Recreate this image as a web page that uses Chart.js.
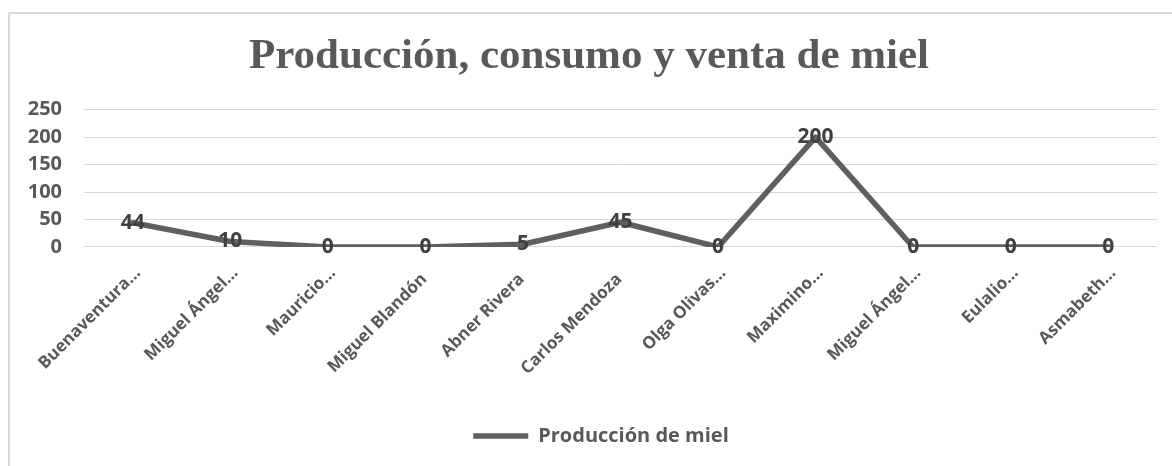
<!DOCTYPE html>
<html>
<head>
<meta charset="utf-8">
<script src="https://cdn.jsdelivr.net/npm/chart.js@4/dist/chart.umd.min.js"></script>
<style>
    html, body { margin: 0; padding: 0; background: #ffffff; }
    #frame {
        position: absolute; left: 8px; top: 12px; width: 1164px; height: 454px;
        border-left: 2px solid #d9d9d9; border-top: 2px solid #d9d9d9;
        box-sizing: border-box;
    }
    #wrap { position: absolute; left: 0; top: 0; width: 1172px; height: 466px; }
</style>
</head>
<body>
<div id="frame"></div>
<div id="wrap"><canvas id="chart"></canvas></div>
<script>
const productores = [
    'Buenaventura…', 'Miguel Ángel…', 'Mauricio…', 'Miguel Blandón', 'Abner Rivera',
    'Carlos Mendoza', 'Olga Olivas…', 'Maximino…', 'Miguel Ángel…', 'Eulalio…', 'Asmabeth…'
];
const produccionMiel = [44, 10, 0, 0, 5, 45, 0, 200, 0, 0, 0];
const yTicks = [0, 50, 100, 150, 200, 250];

const gray = '#5f5f5f';
const textGray = '#595959';

// simple data labels, centred on each point
const pointLabels = {
    id: 'pointLabels',
    afterDatasetsDraw(chart) {
        const ctx = chart.ctx;
        ctx.save();
        ctx.font = 'bold 21px "Open Sans"';
        ctx.fillStyle = '#404040';
        ctx.textAlign = 'center';
        ctx.textBaseline = 'middle';
        chart.getDatasetMeta(0).data.forEach((pt, i) => {
            ctx.fillText(String(produccionMiel[i]), pt.x, pt.y);
        });
        ctx.restore();
    }
};

// Excel centres title / legend a bit right of the canvas middle
const nudgeBoxes = {
    id: 'nudgeBoxes',
    afterLayout(chart) {
        if (chart.titleBlock) chart.titleBlock.left += 21;
        if (chart.legend) chart.legend.left += 45;
    }
};

new Chart(document.getElementById('chart'), {
    type: 'line',
    data: {
        labels: productores,
        datasets: [{
            label: 'Producción de miel',
            data: produccionMiel,
            borderColor: gray,
            backgroundColor: gray,
            borderWidth: 5.5,
            borderCapStyle: 'round',
            borderJoinStyle: 'round',
            pointRadius: 0,
            pointHoverRadius: 0,
            pointStyle: 'line',
            tension: 0,
        }]
    },
    options: {
        responsive: true,
        maintainAspectRatio: false,
        animation: false,
        layout: { padding: { left: 0, right: 15, top: 0, bottom: 10 } },
        scales: {
            x: {
                offset: true,
                grid: { display: false },
                border: { display: false },
                ticks: {
                    color: textGray,
                    font: { family: 'Open Sans', weight: 'bold', size: 17 },
                    minRotation: 45,
                    maxRotation: 45,
                    autoSkip: false,
                    padding: 8,
                    labelOffset: 5,
                    // full names sit a little lower than the truncated ones
                    callback: function (value) {
                        const lbl = this.getLabelForValue(value);
                        return lbl.endsWith('…') ? lbl : lbl + '  ';
                    }
                },
                afterFit: (scale) => { scale.height = 169; }
            },
            y: {
                min: 0,
                max: 250,
                afterBuildTicks: (scale) => { scale.ticks = yTicks.map(v => ({ value: v })); },
                grid: { color: '#d9d9d9', lineWidth: 1, drawTicks: false },
                border: { display: false },
                ticks: {
                    color: textGray,
                    font: { family: 'Open Sans', weight: 'bold', size: 20 },
                    padding: 22,
                },
                afterFit: (scale) => { scale.width = 84; }
            }
        },
        plugins: {
            title: {
                display: true,
                text: 'Producción, consumo y venta de miel',
                color: textGray,
                font: { family: 'Liberation Serif', weight: 'bold', size: 43 },
                padding: { top: 31, bottom: 27 }
            },
            legend: {
                display: true,
                position: 'bottom',
                labels: {
                    color: textGray,
                    font: { family: 'Open Sans', weight: 'bold', size: 20 },
                    usePointStyle: true,
                    pointStyleWidth: 55,
                    boxHeight: 20,
                }
            },
            tooltip: { enabled: false }
        }
    },
    plugins: [pointLabels, nudgeBoxes]
});
</script>
</body>
</html>
